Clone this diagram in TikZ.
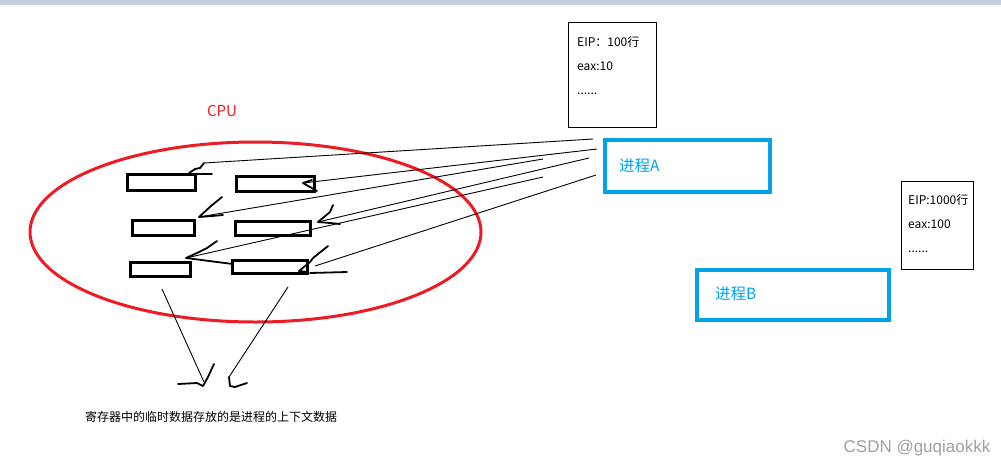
\documentclass[tikz,border=0pt]{standalone}
\usepackage{fontspec}
\usetikzlibrary{shapes.geometric}
\newfontfamily\cjk{Noto Sans CJK SC}
\newfontfamily\wmfont{Liberation Sans}
\definecolor{cpured}{HTML}{ED1C24}
\definecolor{procblue}{HTML}{00A2E8}
\definecolor{topbar}{HTML}{C4CEE0}
\definecolor{wmgray}{HTML}{A0A0A0}

\begin{document}
\begin{tikzpicture}[
  x=1pt,y=-1pt,
  reg/.style={draw,line width=2.8pt,inner sep=0pt},
  proc/.style={draw=procblue,line width=3.5pt,inner sep=0pt,align=left,text=procblue,font=\cjk\fontsize{15.5}{18}\selectfont},
  ctxbox/.style={draw,line width=0.8pt,inner sep=0pt,anchor=north west},
  ctxtext/.style={anchor=north west,align=left,inner sep=0pt,font=\cjk\fontsize{12}{24}\selectfont},
  ln/.style={line width=0.9pt},
  hand/.style={line width=1.8pt,line join=round,line cap=round},
]
\useasboundingbox (0,0) rectangle (1001,467);
\fill[topbar] (0,0) rectangle (1001,5);

% CPU and its registers
\node[draw=cpured,line width=3pt,ellipse,inner sep=0pt,minimum width=451pt,minimum height=180pt] (cpu) at (255.5,232) {};
\node[text=cpured,font=\cjk\fontsize{15}{18}\selectfont] (cpulbl) at (222,111) {CPU};
\node[reg,minimum width=68pt,minimum height=16pt] (r1) at (161.5,182.5) {};
\node[reg,minimum width=78pt,minimum height=15pt] (r2) at (275.5,184) {};
\node[reg,minimum width=62pt,minimum height=15pt] (r3) at (163.5,228) {};
\node[reg,minimum width=75pt,minimum height=14pt] (r4) at (273,228.5) {};
\node[reg,minimum width=60pt,minimum height=14pt] (r5) at (160.5,269.5) {};
\node[reg,minimum width=75pt,minimum height=13pt] (r6) at (270,267) {};

% processes
\node[proc,minimum width=165pt,minimum height=52pt,text width=137pt,inner xsep=14pt] (pa) at (687.5,166) {\raisebox{-1.5pt}{进程A}};
\node[proc,minimum width=192pt,minimum height=50pt,text width=156pt,inner xsep=18pt] (pb) at (793,295) {\raisebox{4.5pt}{进程B}};

% saved contexts
\node[ctxbox,minimum width=88pt,minimum height=105pt] (ctxa) at (568,22) {};
\node[ctxtext] (ctxatxt) at ([shift={(9,14)}]ctxa.north west) {EIP：100行\\eax:10\\......};
\node[ctxbox,minimum width=72pt,minimum height=88pt] (ctxb) at (901,181) {};
\node[ctxtext] (ctxbtxt) at ([shift={(7,13)}]ctxb.north west) {EIP:1000行\\eax:100\\......};

% lines from process A to the registers
\coordinate (sa1) at (593,139);
\coordinate (sa2) at (597,149);
\coordinate (sa3) at (543,159);
\coordinate (sa4) at (589,158);
\coordinate (sa5) at (543,177);
\coordinate (sa6) at (596,175);
\coordinate (t1) at (204,163);
\coordinate (t2) at (303,183);
\coordinate (t3) at (199,217);
\coordinate (t4) at (318,222);
\coordinate (t5) at (186,258);
\coordinate (t6) at (315,266);
\draw[ln] (sa1) -- (t1);
\draw[ln] (sa2) -- (t2);
\draw[ln] (sa3) -- (t3);
\draw[ln] (sa4) -- (t4);
\draw[ln] (sa5) -- (t5);
\draw[ln] (sa6) -- (t6);
\draw[hand] (t1) -- (200,168) -- (195,169) -- (189,173);
\draw[hand] (190,174) -- (212,174);
\draw[hand] (312,180) -- (t2) -- (317,191);
\draw[hand] (222,197) -- (211,206) -- (t3) -- (212,216) -- (223,215);
\draw[hand] (333,205) -- (330,212) -- (t4) -- (330,223) -- (340,224);
\draw[hand] (217,241) -- (207,248) -- (197,253) -- (t5) -- (217,262) -- (233,264);
\draw[hand] (328,246) -- (313,258) -- (310,262) -- (299,271) -- (308,272);
\draw[hand] (310,273) -- (347,272);

% lines down to the note
\coordinate (d1) at (162,289);
\coordinate (d2) at (288,287);
\coordinate (e1) at (204,382);
\coordinate (e2) at (229,377);
\draw[ln] (d1) -- (e1);
\draw[ln] (d2) -- (e2);
\draw[hand] (178,384) -- (197,383) -- (203,386) -- (208,377) -- (214,364);
\draw[hand] (e2) -- (230,386) -- (235,387) -- (247,383);
\node[font=\cjk\fontsize{12}{14}\selectfont] (note) at (211,417) {寄存器中的临时数据存放的是进程的上下文数据};

\node[font=\wmfont\fontsize{17}{19}\selectfont,text=wmgray] (wm) at (917,448) {CSDN @guqiaokkk};
\end{tikzpicture}
\end{document}
